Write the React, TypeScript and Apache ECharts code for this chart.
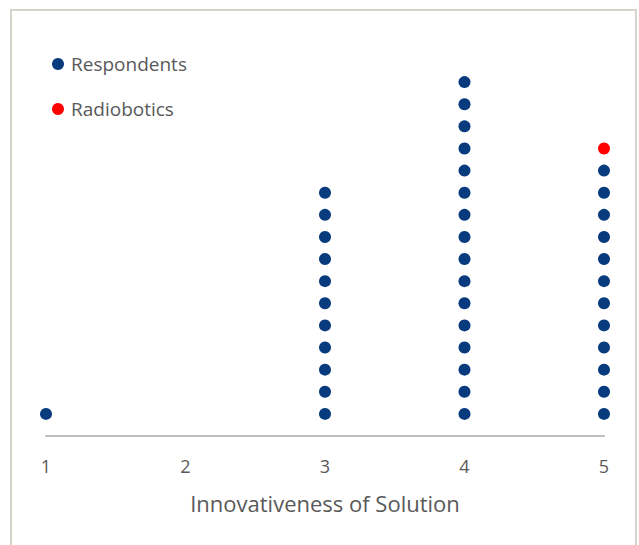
import React, { useEffect, useRef } from "react";
import * as echarts from "echarts";

const categories = [1, 2, 3, 4, 5];
const respondentCounts = [1, 0, 11, 16, 12];
const radioboticsPoint = [5, 13];
const xAxisTitle = "Innovativeness of Solution";
const seriesNames = ["Respondents", "Radiobotics"];

export default function App() {
  const ref = useRef<HTMLDivElement>(null);
  useEffect(() => {
    document.body.style.margin = "0";
    const chart = echarts.init(ref.current!, null, { renderer: "svg" });
    const respondentData: number[][] = [];
    categories.forEach((c, i) => {
      for (let k = 1; k <= respondentCounts[i]; k++) respondentData.push([c, k]);
    });
    const font = "'Open Sans', Lato, sans-serif";
    chart.setOption({
      animation: false,
      backgroundColor: "#ffffff",
      graphic: [
        {
          type: "rect",
          shape: { x: 11, y: 10, width: 625, height: 560 },
          style: { fill: "none", stroke: "#d4d4ca", lineWidth: 2 },
          silent: true,
        },
      ],
      legend: {
        orient: "vertical",
        left: 47,
        top: 49,
        itemWidth: 12,
        itemHeight: 12,
        itemGap: 25,
        icon: "circle",
        textStyle: {
          fontSize: 19,
          color: "#595959",
          fontFamily: font,
          lineHeight: 20,
          padding: [0, 0, 0, 2],
        },
        data: seriesNames,
      },
      grid: { left: 46, right: 35, top: 60, bottom: 109 },
      xAxis: {
        type: "value",
        min: 1,
        max: 5,
        interval: 1,
        name: xAxisTitle,
        nameLocation: "middle",
        nameGap: 56,
        nameTextStyle: { fontSize: 22, color: "#595959", fontFamily: font },
        axisLine: { lineStyle: { color: "#bfbfbf", width: 2 } },
        axisTick: { show: false },
        splitLine: { show: false },
        axisLabel: { fontSize: 18, color: "#595959", fontFamily: font, margin: 21 },
      },
      yAxis: {
        type: "value",
        min: 0,
        max: 17,
        show: false,
        splitLine: { show: false },
      },
      series: [
        {
          name: seriesNames[0],
          type: "scatter",
          symbol: "circle",
          symbolSize: 12,
          itemStyle: { color: "#083a7e", opacity: 1 },
          data: respondentData,
        },
        {
          name: seriesNames[1],
          type: "scatter",
          symbol: "circle",
          symbolSize: 12,
          itemStyle: { color: "#ff0000", opacity: 1 },
          data: [radioboticsPoint],
        },
      ],
    });
    return () => chart.dispose();
  }, []);
  return <div ref={ref} style={{ width: 639, height: 545 }} />;
}
